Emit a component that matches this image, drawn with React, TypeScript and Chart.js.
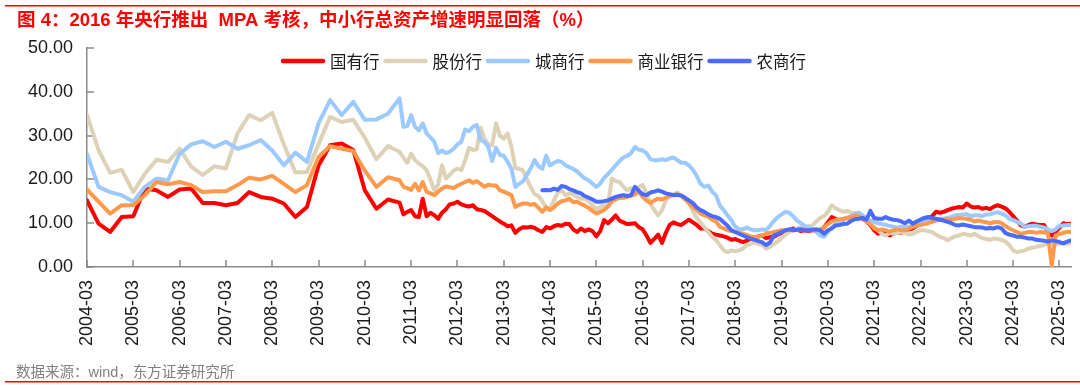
import React, { useEffect, useRef } from 'react';
import { Chart, registerables } from 'chart.js';

Chart.register(...registerables);

const titleText = '图 4：2016 年央行推出  MPA 考核，中小行总资产增速明显回落（%）';
const footerText = '数据来源：wind，东方证券研究所';

const seriesNames = ['国有行', '股份行', '城商行', '商业银行', '农商行'];

const xTickLabels = [
  '2004-03', '2005-03', '2006-03', '2007-03', '2008-03', '2009-03', '2010-03', '2011-03',
  '2012-03', '2013-03', '2014-03', '2015-03', '2016-03', '2017-03', '2018-03', '2019-03',
  '2020-03', '2021-03', '2022-03', '2023-03', '2024-03', '2025-03',
];
const yTickValues = [0, 10, 20, 30, 40, 50];

// quarterly observations 2004-03 .. 2010-12, monthly from 2011-01 .. 2025-06
const quarterlyStart = '2004-03';
const monthlyStart = '2011-01';
const ruralStart = '2014-01';
const lastMonth = '2025-06';

const stateQ = [15.2, 9.9, 8.0, 11.4, 11.6, 17.9, 17.5, 16.0, 17.7, 17.9, 14.6, 14.6, 14.1, 14.6, 17.1, 16.0, 15.6, 14.5, 11.4, 13.7, 23.2, 27.8, 28.2, 26.7, 17.5, 13.3, 15.4, 14.7];
const stateM = [
  12.0, 12.6, 13.0, 11.6, 11.4, 15.6, 11.6, 12.4, 11.8, 11.0, 12.4, 13.2,
  14.3, 14.5, 14.9, 14.3, 14.0, 13.8, 14.1, 13.2, 13.0, 12.8, 12.2, 11.6,
  11.0, 10.4, 9.9, 9.3, 9.5, 7.8, 8.6, 9.1, 9.0, 9.2, 8.9, 8.4,
  8.0, 9.1, 8.8, 9.3, 9.6, 9.4, 9.9, 9.8, 8.6, 8.0, 8.8, 8.2,
  8.6, 8.2, 7.0, 8.2, 10.7, 10.0, 10.8, 11.8, 10.6, 10.2, 9.8, 9.9,
  10.0, 9.1, 8.6, 7.2, 5.5, 6.4, 7.4, 5.5, 7.8, 9.6, 10.2, 9.8,
  9.6, 10.2, 10.8, 10.2, 9.6, 8.8, 8.8, 8.2, 7.6, 7.4, 7.2, 7.0,
  6.7, 6.2, 6.4, 6.0, 5.7, 6.0, 6.5, 6.8, 7.0, 7.2, 6.6, 6.8,
  6.9, 7.4, 7.8, 8.0, 8.4, 8.8, 8.6, 8.2, 8.4, 8.2, 8.4, 8.4,
  8.2, 9.1, 10.2, 11.4, 11.0, 10.4, 10.8, 11.2, 11.4, 11.8, 11.6, 11.0,
  10.4, 9.6, 8.4, 7.6, 8.0, 7.8, 7.2, 7.6, 8.0, 7.8, 8.4, 8.6,
  8.8, 9.4, 9.9, 10.5, 11.0, 11.6, 12.6, 12.4, 12.6, 13.0, 13.3, 13.5,
  13.7, 13.6, 14.5, 13.8, 13.6, 13.7, 13.3, 13.5, 13.2, 13.8, 14.1, 13.8,
  13.4, 12.6, 11.6, 10.6, 9.5, 9.2, 9.6, 9.9, 9.7, 9.6, 9.6, 8.0,
  7.2, 8.0, 9.0, 10.0, 9.8, 9.9,
];

const jointQ = [34.7, 26.7, 21.5, 22.2, 17.1, 21.3, 24.5, 24.0, 27.0, 22.9, 21.0, 23.0, 22.5, 30.5, 34.7, 33.5, 35.2, 28.0, 21.6, 21.7, 28.0, 34.3, 33.1, 33.6, 29.5, 24.6, 27.6, 26.3];
const jointM = [
  25.0, 23.8, 25.9, 24.4, 23.6, 23.0, 22.1, 20.0, 17.5, 18.8, 23.2, 20.2,
  21.0, 22.0, 22.5, 22.1, 24.4, 27.2, 26.7, 26.9, 31.8, 29.3, 28.0, 27.8,
  32.8, 30.0, 29.3, 30.5, 27.4, 22.6, 22.4, 22.0, 20.0, 18.2, 16.6, 16.2,
  15.0, 13.5, 13.3, 15.2, 17.0, 17.5, 16.4, 16.8, 16.6, 16.0, 15.6, 15.6,
  15.0, 14.1, 13.2, 13.7, 14.0, 13.9, 20.2, 19.6, 19.4, 18.3, 17.5, 18.0,
  17.6, 18.2, 18.7, 16.8, 14.5, 13.0, 11.8, 13.0, 15.2, 16.2, 16.6, 17.0,
  16.4, 15.6, 14.6, 12.8, 11.2, 10.2, 9.1, 8.0, 6.9, 6.2, 5.0, 3.8,
  3.4, 3.8, 3.6, 3.8, 4.2, 5.0, 5.3, 5.6, 5.3, 5.0, 4.2, 4.6,
  5.2, 5.8, 6.6, 7.4, 8.0, 8.4, 8.8, 9.1, 9.0, 9.3, 9.5, 10.4,
  11.2, 11.6, 12.6, 14.1, 13.4, 13.0, 12.6, 12.8, 12.4, 12.2, 11.8, 11.2,
  10.6, 10.0, 9.2, 8.4, 7.6, 7.2, 7.8, 7.6, 7.8, 8.0, 7.8, 7.4,
  7.6, 8.0, 8.4, 8.4, 8.2, 8.0, 7.4, 6.9, 6.6, 6.1, 6.6, 7.0,
  7.2, 7.6, 7.4, 7.2, 7.6, 7.0, 6.6, 6.4, 6.2, 6.5, 6.4, 6.2,
  5.8, 5.0, 3.8, 3.4, 3.6, 3.8, 4.2, 4.4, 4.6, 4.8, 5.0, 5.3,
  5.5, 5.2, 5.3, 5.4, 5.3, 5.4,
];

const cityQ = [25.8, 18.3, 17.1, 16.4, 14.9, 18.3, 20.2, 19.8, 25.8, 28.0, 28.7, 27.4, 28.6, 27.0, 27.8, 29.0, 26.6, 23.2, 26.1, 24.0, 32.8, 38.1, 34.7, 37.7, 33.6, 33.7, 35.0, 38.5];
const cityM = [
  32.0, 32.2, 34.7, 32.0, 31.2, 32.8, 30.5, 29.6, 28.6, 26.0, 26.6, 26.0,
  26.3, 27.0, 28.0, 28.6, 31.4, 31.0, 32.0, 32.4, 29.0, 28.6, 27.4, 24.2,
  27.2, 25.6, 25.4, 24.0, 22.4, 18.3, 19.0, 19.6, 21.0, 22.6, 24.4, 23.0,
  22.4, 25.4, 23.2, 23.8, 24.2, 24.0, 23.2, 22.8, 22.4, 21.8, 21.0, 20.2,
  19.8, 19.0, 18.3, 19.0, 20.4, 21.2, 22.2, 23.2, 24.2, 25.0, 25.4, 26.0,
  27.4, 26.8, 26.6, 26.0, 24.6, 24.4, 24.4, 24.6, 24.4, 24.8, 25.0, 24.4,
  23.8, 23.8, 23.2, 22.2, 20.8, 19.0, 18.3, 18.6, 17.2, 16.4, 14.0, 13.0,
  11.8, 10.7, 9.2, 8.6, 8.6, 9.0, 8.6, 8.4, 8.4, 8.6, 8.4, 9.4,
  10.5, 11.4, 12.0, 12.6, 12.4, 11.6, 10.6, 10.0, 9.4, 9.0, 8.6, 8.0,
  7.2, 6.9, 8.0, 9.0, 9.8, 10.2, 10.8, 11.2, 11.6, 12.2, 12.4, 11.8,
  11.2, 10.6, 10.3, 10.0, 9.8, 9.6, 9.4, 9.2, 9.0, 9.2, 9.3, 9.1,
  9.6, 9.9, 10.2, 10.3, 10.5, 10.7, 10.8, 11.0, 11.0, 11.2, 11.4, 11.8,
  11.9, 12.0, 12.1, 11.6, 11.8, 11.8, 11.6, 12.0, 12.0, 12.3, 12.5, 12.2,
  11.8, 11.0, 10.7, 10.3, 9.9, 9.2, 9.3, 9.4, 9.4, 9.2, 9.0, 8.6,
  8.2, 8.6, 9.4, 9.5, 9.6, 9.6,
];

const commQ = [17.7, 14.9, 12.2, 14.1, 14.1, 16.4, 19.4, 18.9, 19.4, 18.7, 17.1, 17.3, 17.3, 18.7, 20.4, 20.0, 20.8, 19.0, 17.1, 18.7, 25.1, 27.6, 27.0, 26.5, 22.0, 18.3, 20.5, 19.8];
const commM = [
  18.3, 18.0, 17.6, 19.0, 17.5, 19.4, 17.2, 16.8, 16.4, 17.2, 17.9, 18.4,
  18.2, 18.0, 18.6, 19.0, 19.4, 19.8, 19.2, 19.6, 19.0, 18.3, 18.8, 18.6,
  18.6, 17.5, 17.2, 16.8, 16.4, 13.7, 14.2, 14.5, 14.5, 14.2, 14.4, 13.5,
  12.6, 13.6, 13.0, 13.6, 14.5, 15.0, 15.2, 15.6, 14.8, 14.9, 14.4, 14.0,
  13.5, 12.8, 12.2, 12.6, 13.0, 13.8, 15.0, 15.4, 15.8, 15.8, 16.0, 16.2,
  16.6, 17.2, 16.0, 15.2, 14.6, 15.2, 15.6, 15.4, 15.8, 16.2, 16.4, 16.6,
  16.2, 15.4, 14.6, 13.7, 13.0, 12.2, 11.8, 11.5, 10.8, 10.4, 9.2, 8.8,
  8.4, 8.2, 8.0, 7.8, 7.6, 7.3, 7.0, 6.8, 6.9, 7.2, 7.6, 7.8,
  8.0, 8.2, 8.4, 8.4, 8.5, 8.4, 8.5, 8.6, 8.5, 8.4, 8.4, 8.4,
  8.6, 9.0, 9.8, 10.4, 10.7, 10.9, 11.0, 11.2, 11.4, 11.8, 11.6, 11.2,
  10.4, 9.8, 8.8, 8.4, 8.6, 8.4, 8.1, 8.4, 8.6, 8.4, 8.4, 8.8,
  9.1, 9.5, 9.6, 9.8, 10.0, 10.3, 10.6, 10.8, 10.8, 10.9, 10.8, 11.0,
  11.2, 11.1, 11.0, 10.8, 10.4, 10.6, 10.4, 10.2, 10.0, 10.2, 10.3, 10.0,
  9.4, 8.8, 8.4, 8.0, 7.6, 7.8, 8.0, 8.0, 7.8, 8.0, 7.9, 7.8,
  0.3, 7.2, 7.5, 7.8, 8.0, 8.0,
];

const ruralM = [
  17.5, 17.6, 17.5, 17.9, 17.6, 18.5, 18.3, 17.8, 17.5, 17.1, 16.8, 16.2,
  15.8, 15.4, 14.9, 14.9, 15.0, 15.2, 15.6, 16.0, 16.2, 16.4, 16.2, 16.4,
  18.3, 17.4, 16.6, 16.4, 17.0, 17.2, 17.5, 17.2, 16.8, 16.6, 16.4, 16.5,
  16.3, 15.8, 15.2, 14.6, 13.6, 13.0, 12.6, 12.0, 11.6, 11.4, 11.0, 10.2,
  9.4, 8.4, 8.0, 7.6, 7.2, 6.8, 6.5, 6.2, 5.9, 5.6, 5.0, 5.6,
  7.2, 7.6, 8.0, 8.4, 8.6, 8.4, 8.5, 8.6, 8.4, 8.4, 8.5, 8.6,
  8.4, 7.6, 8.4, 8.8, 9.5, 9.6, 9.8, 9.9, 10.5, 10.9, 11.0, 11.2,
  10.8, 12.8, 11.2, 11.0, 11.0, 11.4, 11.0, 10.8, 10.7, 10.4, 10.0, 10.6,
  9.9, 10.4, 10.8, 11.2, 11.4, 11.2, 11.0, 10.8, 10.6, 10.3, 10.0, 9.6,
  9.5, 9.7, 9.5, 9.3, 9.1, 9.1, 9.0, 8.8, 8.9, 8.8, 9.1, 8.8,
  7.8, 7.4, 7.2, 6.9, 6.9, 6.7, 6.5, 6.5, 6.2, 6.1, 6.0, 5.8,
  6.1, 5.9, 5.7, 5.4, 5.8, 6.1,
];

const seriesColors = ['#FF0000', '#DDD1B6', '#9CC9FF', '#FF9A4C', '#4A6BFF'];
const axisColor = '#8a8a8a';
const textColor = '#1a1a1a';
const latin = '"Liberation Sans", Arial, "Noto Sans CJK SC", sans-serif';
const cjk = '"Noto Sans CJK SC", "Liberation Sans", sans-serif';

function monthIndex(ym: string): number {
  const [y, m] = ym.split('-').map(Number);
  const [y0, m0] = quarterlyStart.split('-').map(Number);
  return (y - y0) * 12 + (m - m0);
}

function points(q: number[] | null, m: number[], mStart: string) {
  const pts: { x: number; y: number }[] = [];
  const q0 = monthIndex(quarterlyStart);
  if (q) q.forEach((v, i) => pts.push({ x: q0 + i * 3, y: v }));
  const s = monthIndex(mStart);
  m.forEach((v, j) => pts.push({ x: s + j, y: v }));
  return pts;
}

const seriesData = [
  points(stateQ, stateM, monthlyStart),
  points(jointQ, jointM, monthlyStart),
  points(cityQ, cityM, monthlyStart),
  points(commQ, commM, monthlyStart),
  points(null, ruralM, ruralStart),
];

const decorPlugin = {
  id: 'decor',
  beforeDatasetsDraw(chart: any) {
    const { ctx, chartArea, scales } = chart;
    ctx.save();
    ctx.strokeStyle = axisColor;
    ctx.lineWidth = 1.5;
    ctx.beginPath();
    xTickLabels.forEach((_, i) => {
      const x = Math.round(scales.x.getPixelForValue(i * 12));
      ctx.moveTo(x, chartArea.bottom);
      ctx.lineTo(x, chartArea.bottom - 7);
    });
    yTickValues.forEach((v) => {
      const y = Math.round(scales.y.getPixelForValue(v));
      ctx.moveTo(chartArea.left, y);
      ctx.lineTo(chartArea.left + 7, y);
    });
    ctx.stroke();
    ctx.restore();
  },
  afterDraw(chart: any) {
    const { ctx } = chart;
    ctx.save();
    // red rules
    ctx.fillStyle = '#FF0000';
    ctx.fillRect(5, 5, 1075, 1.5);
    ctx.fillRect(5, 381, 1075, 1.5);
    // title
    ctx.textBaseline = 'middle';
    ctx.textAlign = 'left';
    ctx.font = `bold 18.5px ${latin}`;
    ctx.fillStyle = '#FF0000';
    ctx.fillText(titleText, 17, 21);
    // footer
    ctx.font = `14.5px ${latin}`;
    ctx.fillStyle = '#7f7f7f';
    ctx.fillText(footerText, 16, 373);
    // legend
    ctx.font = `16.5px ${cjk}`;
    let x = 281;
    const y = 61;
    seriesNames.forEach((name, i) => {
      ctx.strokeStyle = seriesColors[i];
      ctx.lineWidth = 4.5;
      ctx.lineCap = 'round';
      ctx.beginPath();
      ctx.moveTo(x + 2, y);
      ctx.lineTo(x + 42, y);
      ctx.stroke();
      x += 49;
      ctx.fillStyle = textColor;
      ctx.fillText(name, x, y + 1);
      x += ctx.measureText(name).width + 4;
    });
    ctx.restore();
  },
};

export default function App() {
  const ref = useRef<HTMLCanvasElement | null>(null);
  useEffect(() => {
    if (!ref.current) return;
    const chart = new Chart(ref.current, {
      type: 'line',
      data: {
        datasets: seriesNames.map((name, i) => ({
          label: name,
          data: seriesData[i],
          borderColor: seriesColors[i],
          backgroundColor: seriesColors[i],
          borderWidth: 4,
          pointRadius: 0,
          tension: 0,
          fill: false,
          borderJoinStyle: 'round' as const,
          borderCapStyle: 'round' as const,
          order: seriesNames.length - 1 - i,
        })),
      },
      options: {
        responsive: false,
        animation: false,
        devicePixelRatio: 1,
        layout: { padding: { left: 0, right: 9, top: 48, bottom: 0 } },
        plugins: {
          legend: { display: false },
          tooltip: { enabled: false },
          title: { display: false },
        },
        scales: {
          x: {
            type: 'linear',
            min: 0,
            max: monthIndex(lastMonth),
            grid: { display: false, drawTicks: false },
            border: { display: true, color: axisColor, width: 1.5 },
            afterBuildTicks: (s: any) => {
              s.ticks = xTickLabels.map((_, i) => ({ value: i * 12 }));
            },
            afterFit: (s: any) => {
              s.height = 122;
              s.paddingLeft = 0;
              s.paddingRight = 0;
            },
            ticks: {
              autoSkip: false,
              minRotation: 90,
              maxRotation: 90,
              padding: 13,
              color: textColor,
              font: { family: latin, size: 18 },
              callback: (_v: any, i: number) => xTickLabels[i],
            },
          },
          y: {
            min: 0,
            max: 50,
            grid: { display: false, drawTicks: false },
            border: { display: true, color: axisColor, width: 1.5 },
            afterBuildTicks: (s: any) => {
              s.ticks = yTickValues.map((v) => ({ value: v }));
            },
            afterFit: (s: any) => {
              s.width = 87;
              s.paddingTop = 0;
              s.paddingBottom = 0;
            },
            ticks: {
              padding: 14,
              color: textColor,
              font: { family: latin, size: 18 },
              callback: (v: any) => Number(v).toFixed(2),
            },
          },
        },
      },
      plugins: [decorPlugin],
    });
    return () => chart.destroy();
  }, []);

  return (
    <div style={{ position: 'fixed', left: 0, top: 0, width: 1080, height: 389, background: '#fff' }}>
      <canvas ref={ref} width={1080} height={389} style={{ display: 'block', width: 1080, height: 389 }} />
    </div>
  );
}
